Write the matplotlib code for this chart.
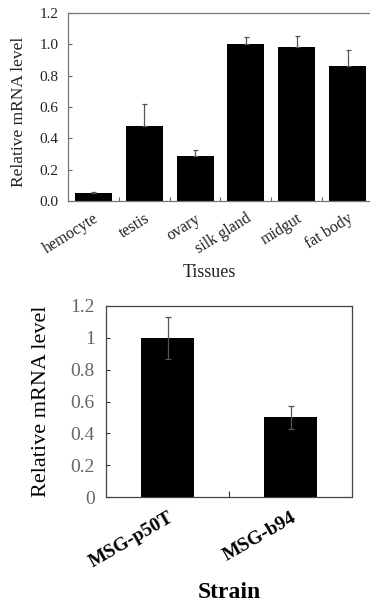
import numpy as np
import matplotlib
matplotlib.use('Agg')
import matplotlib.pyplot as plt

plt.rcParams['font.family'] = ['Liberation Serif', 'DejaVu Serif']

# Top panel: tissue distribution
tissues = ['hemocyte', 'testis', 'ovary', 'silk gland', 'midgut', 'fat body']
tissue_vals = [0.05, 0.48, 0.285, 1.0, 0.985, 0.86]
tissue_err = [0.005, 0.14, 0.04, 0.045, 0.065, 0.105]
tissue_yticks = [0.0, 0.2, 0.4, 0.6, 0.8, 1.0, 1.2]

# Bottom panel: strains
strains = ['MSG-p50T', 'MSG-b94']
strain_vals = [1.0, 0.5]
strain_err = [0.13, 0.07]
strain_yticks = [0, 0.2, 0.4, 0.6, 0.8, 1, 1.2]

fig = plt.figure(figsize=(3.7, 6.12), dpi=100)

# ---- top panel
ax = fig.add_axes([0.1838, 0.6716, 1.008 - 0.1838, 0.9788 - 0.6716])
x = np.arange(len(tissues))
ax.bar(x, tissue_vals, width=0.73, color='black', zorder=2)
ax.errorbar(x, tissue_vals, yerr=[np.zeros(len(tissues)), tissue_err],
            fmt='none', ecolor='#555555', elinewidth=0.9, capsize=1.8,
            capthick=0.9, zorder=3)
ax.set_xlim(-0.5, len(tissues) - 0.5)
ax.set_ylim(0, 1.2)
ax.set_yticks(tissue_yticks)
ax.set_yticklabels([f'{v:.1f}' for v in tissue_yticks], fontsize=11, color='#222222')
ax.set_xticks(np.arange(len(tissues) - 1) + 0.5)
ax.set_xticklabels([])
ax.set_xticks(x, minor=True)
ax.set_xticklabels(tissues, minor=True, rotation=32, ha='right',
                   rotation_mode='anchor', fontsize=11.5, color='#222222')
ax.tick_params(axis='x', which='minor', length=0, pad=7)
ax.tick_params(axis='x', which='major', direction='in', length=3, color='#666666')
ax.tick_params(axis='y', direction='in', length=3, color='#666666', pad=7)
for s in ax.spines.values():
    s.set_color('#777777')
    s.set_linewidth(0.9)
ax.set_ylabel('Relative mRNA level', fontsize=12.5, color='#222222')
ax.yaxis.set_label_coords(-0.135, 0.475)
ax.set_xlabel('Tissues', fontsize=13, color='#222222')
ax.xaxis.set_label_coords(0.465, -0.335)

# ---- bottom panel
ax2 = fig.add_axes([0.2865, 0.1879, 0.9514 - 0.2865, 0.5 - 0.1879])
x2 = np.arange(len(strains))
ax2.bar(x2, strain_vals, width=0.43, color='black', zorder=2)
ax2.errorbar(x2, strain_vals, yerr=strain_err, fmt='none', ecolor='#555555',
             elinewidth=0.9, capsize=2, capthick=0.9, zorder=3)
ax2.set_xlim(-0.5, len(strains) - 0.5)
ax2.set_ylim(0, 1.2)
ax2.set_yticks(strain_yticks)
ax2.set_yticklabels([f'{v:g}' for v in strain_yticks], fontsize=14, color='#666666')
ax2.set_xticks([0.5])
ax2.set_xticklabels([])
ax2.set_xticks(x2, minor=True)
ax2.set_xticklabels(strains, minor=True, rotation=30, ha='right',
                    rotation_mode='anchor', fontsize=14, fontweight='bold')
ax2.tick_params(axis='x', which='minor', length=0, pad=9)
ax2.tick_params(axis='x', which='major', direction='in', length=4, color='#333333')
ax2.tick_params(axis='y', direction='in', length=3, color='#333333', pad=8)
for s in ax2.spines.values():
    s.set_color('#444444')
    s.set_linewidth(0.9)
ax2.set_ylabel('Relative mRNA level', fontsize=16)
ax2.yaxis.set_label_coords(-0.225, 0.5)
ax2.set_xlabel('Strain', fontsize=17, fontweight='bold')
ax2.xaxis.set_label_coords(0.5, -0.445)

fig.savefig('out.png', dpi=100)
